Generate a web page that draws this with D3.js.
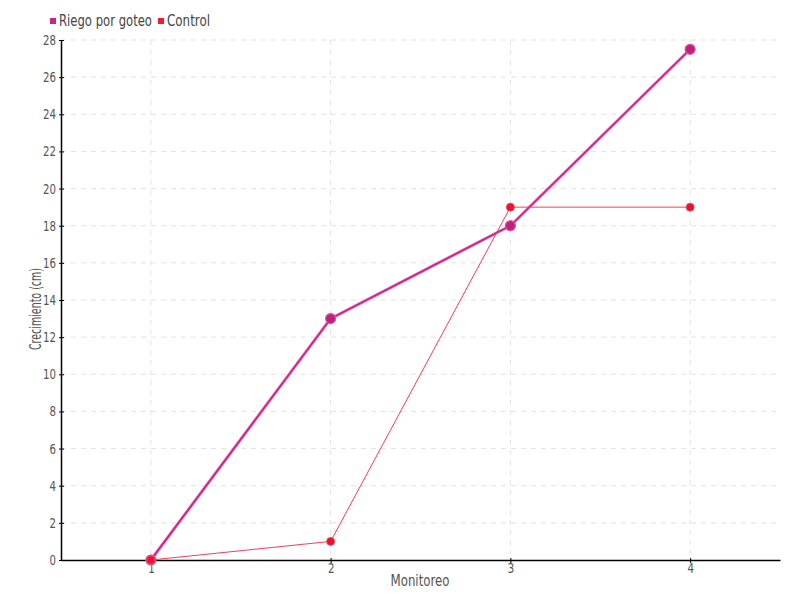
<!DOCTYPE html>
<html><head><meta charset="utf-8">
<script src="https://cdn.jsdelivr.net/npm/d3@7/dist/d3.min.js"></script>
<style>
body{margin:0;background:#fff;}
text{font-family:"DejaVu Sans Condensed","DejaVu Sans",sans-serif;}
</style></head>
<body>
<svg id="c" width="800" height="600"></svg>
<script>
const monitoreo = [1, 2, 3, 4];
const riego = [0, 13, 18, 27.5];
const control = [0, 1, 19, 19];
const yTicks = [0,2,4,6,8,10,12,14,16,18,20,22,24,26,28];
const seriesNames = ["Riego por goteo", "Control"];
const colors = ["#cc2288", "#f01a35"];

const svg = d3.select("#c");
const L = 61, R = 780, T = 40, B = 560;
const x = d3.scaleLinear().domain([0.5, 4.5]).range([L, R]);
const y = d3.scaleLinear().domain([0, 28]).range([B, T]);

// grid
const g = svg.append("g");
g.selectAll(".hg").data(yTicks.slice(1)).enter().append("line")
  .attr("x1", L).attr("x2", R).attr("y1", d=>y(d)).attr("y2", d=>y(d))
  .attr("stroke", "#e3e3e3").attr("stroke-dasharray", "5,5");
g.selectAll(".vg").data(monitoreo).enter().append("line")
  .attr("x1", d=>x(d)).attr("x2", d=>x(d)).attr("y1", T).attr("y2", B)
  .attr("stroke", "#e3e3e3").attr("stroke-dasharray", "5,5");

// axes
const xa = svg.append("g").attr("transform", `translate(0,${B})`)
  .call(d3.axisBottom(x).tickValues(monitoreo).tickFormat(d3.format("d")).tickSize(3).tickSizeOuter(0));
const ya = svg.append("g").attr("transform", `translate(${L},0)`)
  .call(d3.axisLeft(y).tickValues(yTicks).tickSize(3).tickSizeOuter(0));
[xa, ya].forEach(a => {
  a.select(".domain").attr("stroke", "#000").attr("stroke-width", 1.5);
  a.selectAll(".tick line").attr("stroke", "#000");
  a.selectAll("text").attr("fill", "#555").attr("font-size", 14)
    .attr("textLength", function(){ return this.textContent.length * 6.5; })
    .attr("lengthAdjust", "spacingAndGlyphs");
});
ya.selectAll(".tick line").attr("x1", -2).attr("x2", 3);
ya.selectAll("text").attr("x", -5);
xa.selectAll(".tick line").attr("y1", -2).attr("y2", 3);
xa.selectAll("text").attr("y", 3);

// axis titles
svg.append("text").attr("x", 420).attr("y", 586).attr("text-anchor", "middle")
  .attr("fill", "#555").attr("font-size", 15).attr("textLength", 59).attr("lengthAdjust", "spacingAndGlyphs")
  .text("Monitoreo");
svg.append("text").attr("transform", `translate(41,309) rotate(-90)`)
  .attr("text-anchor", "middle").attr("fill", "#555").attr("font-size", 15)
  .attr("textLength", 82).attr("lengthAdjust", "spacingAndGlyphs").text("Crecimiento (cm)");

// lines
const line = d3.line().x((d,i)=>x(monitoreo[i])).y(d=>y(d));
svg.append("path").datum(riego).attr("d", line).attr("fill", "none")
  .attr("stroke", "#e870b8").attr("stroke-width", 3);
svg.append("path").datum(riego).attr("d", line).attr("fill", "none")
  .attr("stroke", colors[0]).attr("stroke-width", 1.6);
svg.append("g").selectAll("circle").data(riego).enter().append("circle")
  .attr("cx", (d,i)=>x(monitoreo[i])).attr("cy", d=>y(d)).attr("r", 5)
  .attr("fill", "#c0207a").attr("stroke", "#d9559f").attr("stroke-width", 1.2);

svg.append("path").datum(control).attr("d", line).attr("fill", "none")
  .attr("stroke", "#ff3a52").attr("stroke-width", 1);
svg.append("g").selectAll("circle").data(control).enter().append("circle")
  .attr("cx", (d,i)=>x(monitoreo[i])).attr("cy", d=>y(d)).attr("r", 4)
  .attr("fill", "#e8132e").attr("stroke", "#f0485a").attr("stroke-width", 0.8);

// legend
const lg = svg.append("g");
const lx = [50, 158];
const lw = [93, 43];
seriesNames.forEach((n, i) => {
  lg.append("rect").attr("x", lx[i]).attr("y", 18).attr("width", 6).attr("height", 6).attr("fill", colors[i]);
  lg.append("text").attr("x", lx[i] + 9).attr("y", 26).attr("fill", "#444").attr("font-size", 15)
    .attr("textLength", lw[i]).attr("lengthAdjust", "spacingAndGlyphs").text(n);
});
</script>
</body></html>
